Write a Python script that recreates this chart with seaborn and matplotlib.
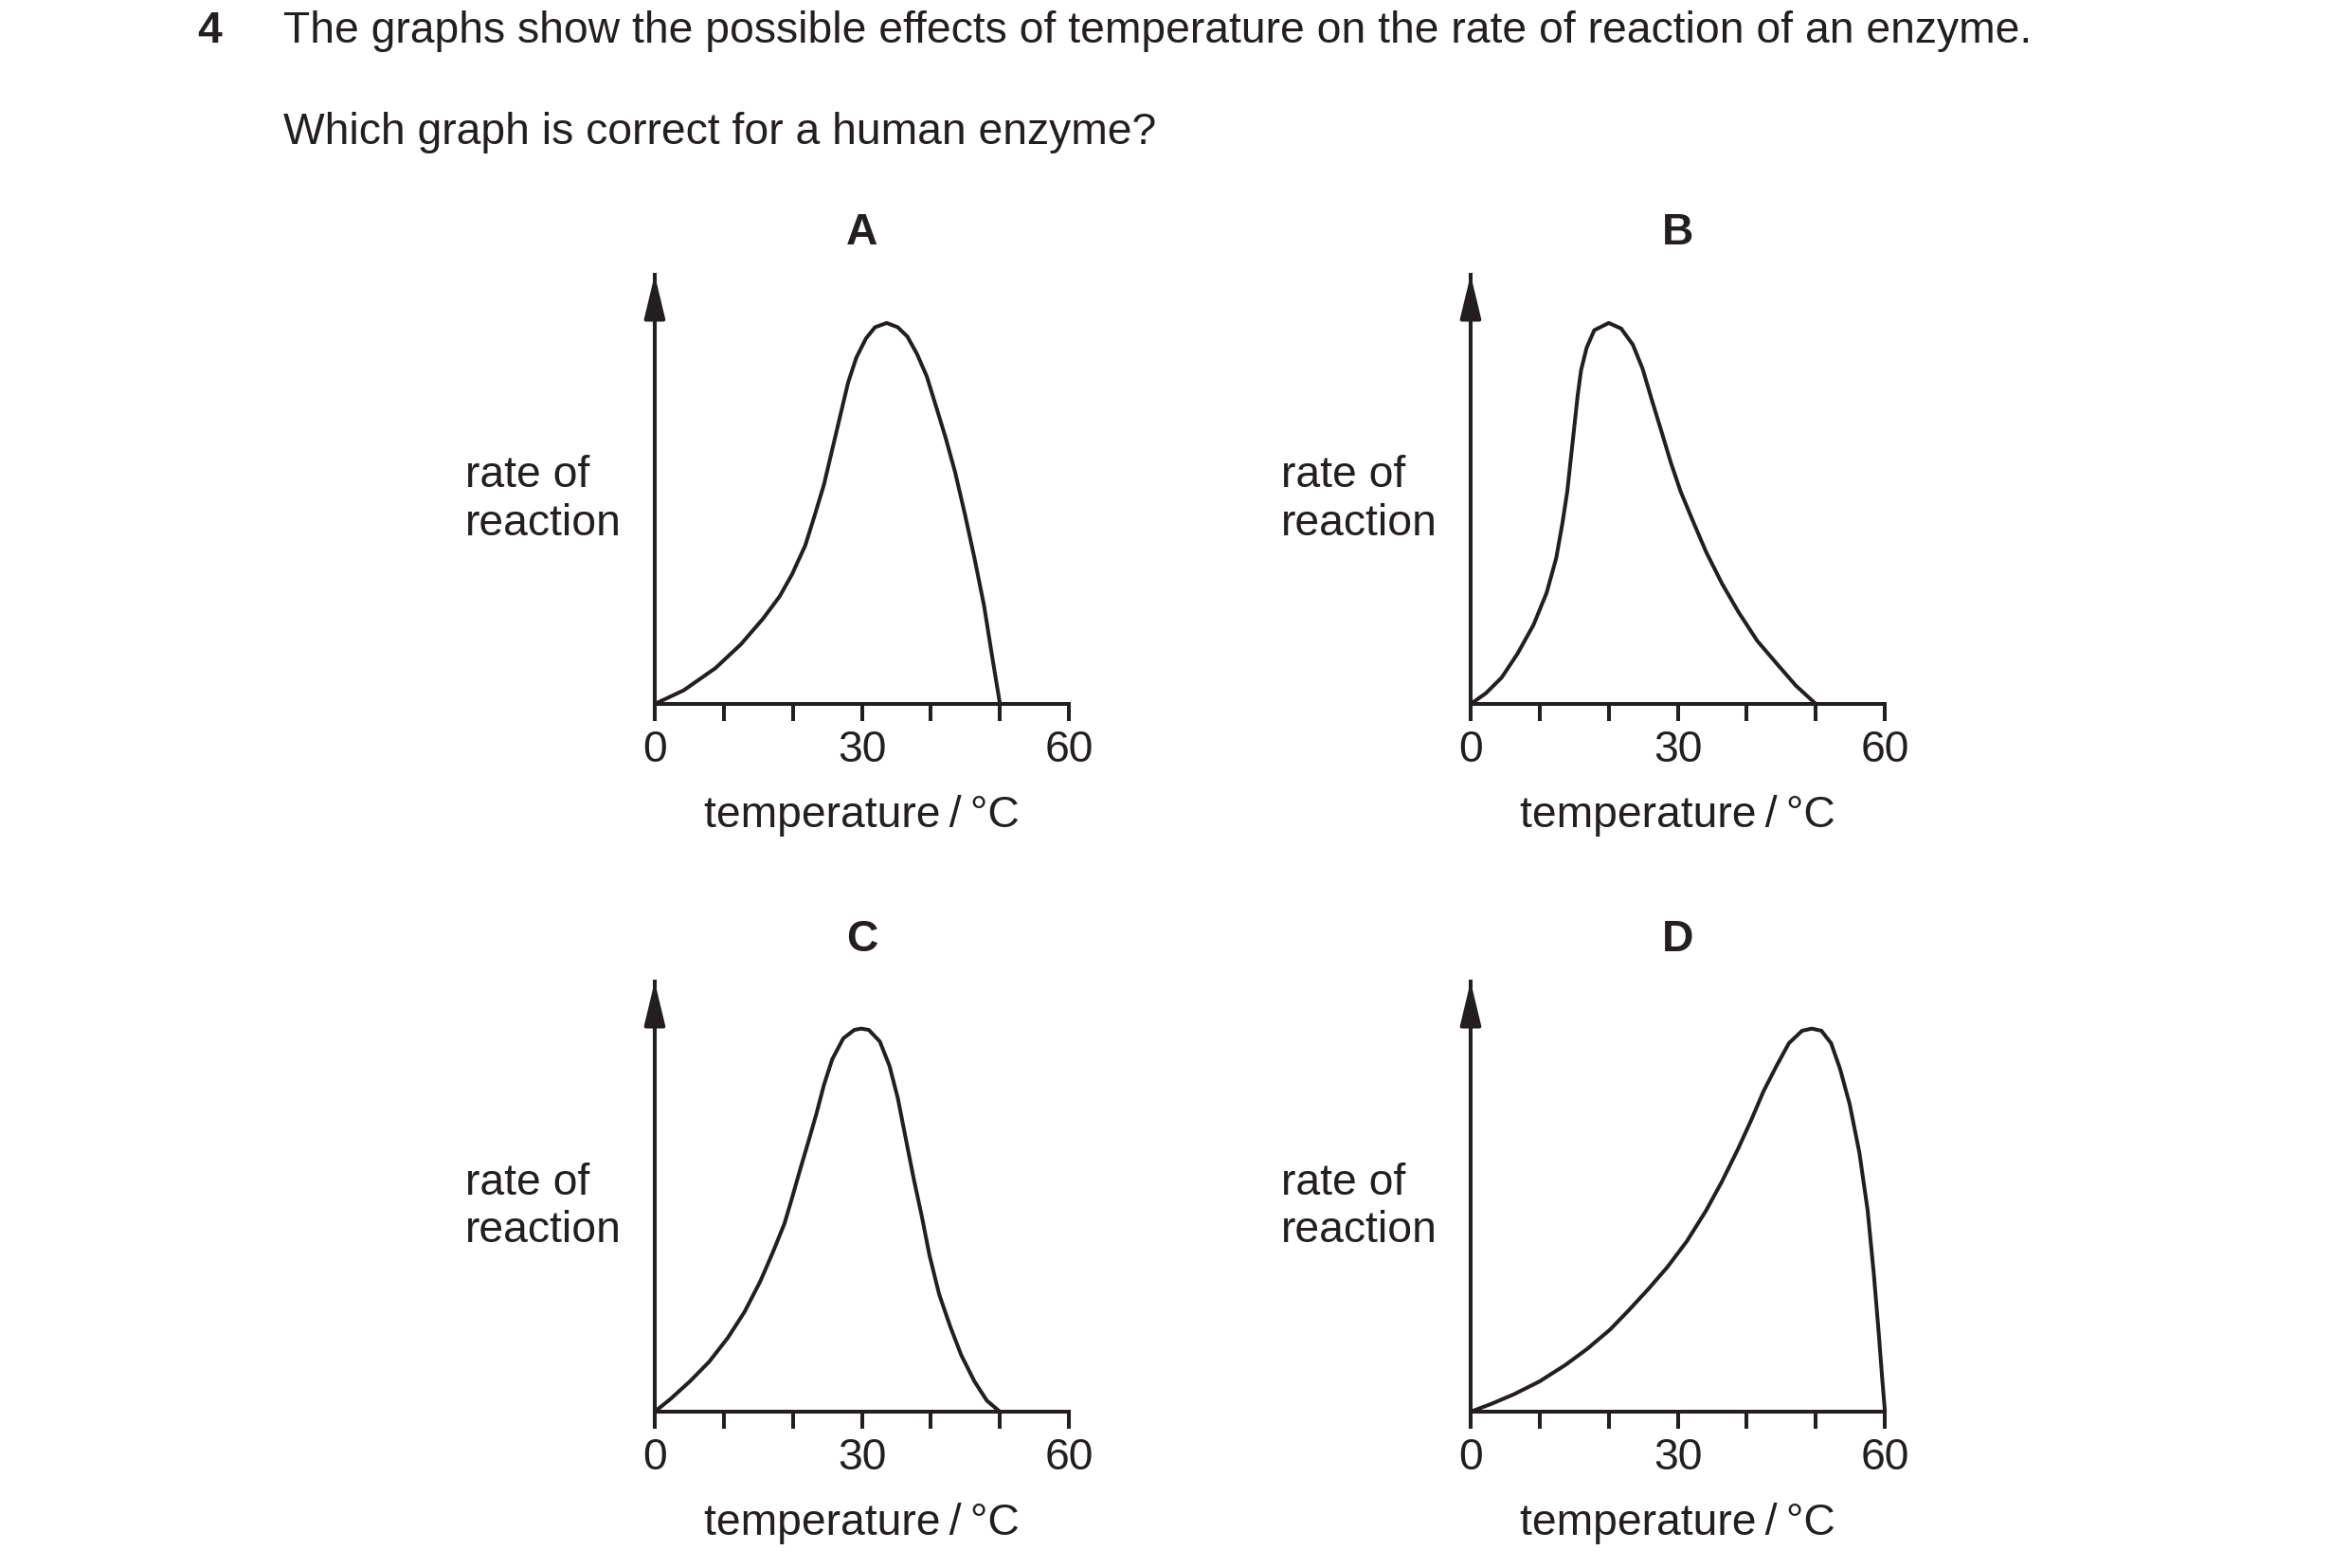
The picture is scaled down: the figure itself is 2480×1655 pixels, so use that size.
import pandas as pd
import matplotlib
matplotlib.use("Agg")
import matplotlib.pyplot as plt
import seaborn as sns

# values (temperature in °C, rate in arbitrary units, arrow tip = 10)
temp_a = [0, 4.2, 8.8, 12.5, 15.7, 18.1, 19.9, 21.8, 23.1, 24.5, 25.7, 26.9, 28.0, 29.2, 30.6,
          31.9, 33.6, 35.2, 36.6, 38.0, 39.4, 40.7, 42.1, 43.5, 44.9, 46.3, 47.7, 48.8, 50]
rate_a = [0, 0.32, 0.84, 1.40, 2.0, 2.52, 3.04, 3.71, 4.38, 5.13, 5.95, 6.77, 7.52, 8.11, 8.56,
          8.82, 8.92, 8.82, 8.60, 8.19, 7.67, 6.99, 6.25, 5.43, 4.46, 3.42, 2.30, 1.18, 0]

temp_b = [0, 2.2, 4.5, 6.8, 9.1, 11.0, 12.4, 13.3, 14.0, 14.5, 15.0, 15.5, 16.0, 16.8, 17.9,
          20.0, 21.8, 23.5, 24.9, 26.2, 27.6, 29.0, 30.4, 32.3, 34.1, 36.4, 38.8, 41.5, 44.3, 47.1, 50]
rate_b = [0, 0.25, 0.62, 1.18, 1.85, 2.60, 3.42, 4.24, 4.98, 5.73, 6.47, 7.22, 7.82, 8.34, 8.75,
          8.92, 8.79, 8.41, 7.85, 7.14, 6.40, 5.65, 4.98, 4.24, 3.56, 2.82, 2.15, 1.48, 0.95, 0.43, 0]

temp_c = [0, 2.3, 5.1, 7.9, 10.6, 13.0, 15.3, 17.1, 18.8, 19.9, 21.1, 22.2, 23.4, 24.5, 25.7, 27.3,
          28.9, 29.9, 31.0, 32.6, 34.0, 35.2, 36.3, 37.5, 38.7, 39.8, 41.2, 42.8, 44.4, 46.3, 48.1, 50]
rate_c = [0, 0.30, 0.71, 1.17, 1.73, 2.33, 3.05, 3.72, 4.40, 5.0, 5.68, 6.28, 6.95, 7.63, 8.23, 8.72,
          8.92, 8.95, 8.92, 8.65, 8.08, 7.33, 6.43, 5.45, 4.55, 3.65, 2.74, 1.99, 1.32, 0.71, 0.26, 0]

temp_d = [0, 3.1, 6.3, 10.0, 13.7, 16.9, 20.2, 22.9, 25.7, 28.5, 31.3, 34.1, 36.4, 38.7, 40.6,
          42.4, 44.3, 46.1, 48.0, 49.4, 50.8, 52.2, 53.5, 54.9, 56.3, 57.5, 58.4, 59.1, 59.6, 60]
rate_d = [0, 0.19, 0.41, 0.71, 1.09, 1.47, 1.92, 2.37, 2.86, 3.38, 3.98, 4.70, 5.38, 6.13, 6.80,
          7.48, 8.08, 8.61, 8.90, 8.95, 8.90, 8.61, 8.01, 7.18, 6.05, 4.70, 3.20, 1.84, 0.79, 0]

graph_names = ["A", "B", "C", "D"]
x_ticks = [0, 10, 20, 30, 40, 50, 60]
x_tick_labels = ["0", "", "", "30", "", "", "60"]

question_no = "4"
question_1 = "The graphs show the possible effects of temperature on the rate of reaction of an enzyme."
question_2 = "Which graph is correct for a human enzyme?"

frames = []
for name, t, r in zip(graph_names, [temp_a, temp_b, temp_c, temp_d], [rate_a, rate_b, rate_c, rate_d]):
    frames.append(pd.DataFrame({"graph": name, "temperature": t, "rate": r}))
df = pd.concat(frames, ignore_index=True)

sns.set_style("white")
plt.rcParams["font.family"] = ["Liberation Sans", "DejaVu Sans"]

ink = "#231f20"
fs = 33.3
lw = 2.9

fig = plt.figure(figsize=(24.8, 16.56), dpi=100)

# axes boxes in figure fractions (left, bottom, width, height)
boxes = {
    "A": [0.2786, 0.5507, 0.1763, 0.2736],
    "B": [0.6258, 0.5507, 0.1763, 0.2736],
    "C": [0.2786, 0.0996, 0.1763, 0.2742],
    "D": [0.6258, 0.0996, 0.1763, 0.2742],
}

for name in graph_names:
    ax = fig.add_axes(boxes[name])
    ax.patch.set_alpha(0)
    sub = df[df["graph"] == name]
    sns.lineplot(data=sub, x="temperature", y="rate", ax=ax, color=ink, lw=lw,
                 sort=False, estimator=None, clip_on=False, solid_joinstyle="round")
    ax.set_xlim(0, 60)
    ax.set_ylim(0, 10.05)
    for side in ["top", "right"]:
        ax.spines[side].set_visible(False)
    for side in ["left", "bottom"]:
        ax.spines[side].set_color(ink)
        ax.spines[side].set_linewidth(lw)
    ax.set_xticks(x_ticks)
    ax.set_xticklabels(x_tick_labels)
    ax.set_yticks([])
    ax.tick_params(axis="x", direction="out", length=13, width=lw, color=ink,
                   labelsize=fs, labelcolor=ink, pad=6, bottom=True)
    ax.set_xlabel("temperature\u2009/\u2009°C", fontsize=fs, color=ink, labelpad=18)
    ax.set_ylabel("")
    ax.annotate("", xy=(0, 1), xytext=(0, 0.88), xycoords="axes fraction",
                arrowprops=dict(arrowstyle="-|>,head_length=1.0,head_width=0.24",
                                mutation_scale=28, color=ink, lw=lw,
                                shrinkA=0, shrinkB=0))
    ax.text(-0.458, 0.478, "rate of\nreaction", transform=ax.transAxes, fontsize=fs,
            color=ink, ha="left", va="center", linespacing=1.2)
    ax.text(0.5, 1.10, name, transform=ax.transAxes, fontsize=fs, color=ink,
            ha="center", va="center", fontweight="bold")

fig.text(208 / 2480, 1 - 45 / 1656, question_no, fontsize=fs, color=ink,
         fontweight="bold", va="baseline", ha="left")
fig.text(299 / 2480, 1 - 45 / 1656, question_1, fontsize=fs, color=ink,
         va="baseline", ha="left")
fig.text(299 / 2480, 1 - 152 / 1656, question_2, fontsize=fs, color=ink,
         va="baseline", ha="left")

fig.savefig("out.png", dpi=100, facecolor="white")
